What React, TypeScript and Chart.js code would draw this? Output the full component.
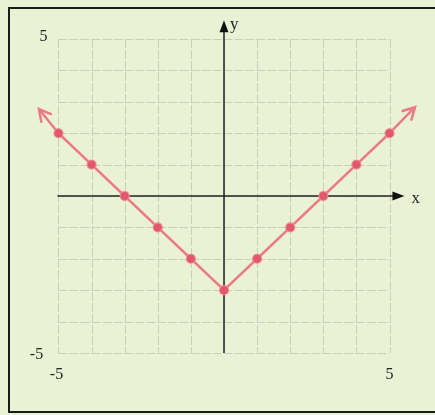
import React, { useEffect, useRef } from "react";
import { Chart, registerables } from "chart.js";

Chart.register(...registerables);

const xValues = [-5, -4, -3, -2, -1, 0, 1, 2, 3, 4, 5];
const yValues = [2, 1, 0, -1, -2, -3, -2, -1, 0, 1, 2];
const leftArrowX = [-5, -5.59];
const leftArrowY = [2, 2.77];
const rightArrowX = [5, 5.77];
const rightArrowY = [2, 2.83];
const gridTicks = [-5, -4, -3, -2, -1, 0, 1, 2, 3, 4, 5];
const yTickLabels = ["5", "-5"];
const xTickLabels = ["-5", "5"];

const LINE = "#ea7b82";
const POINT = "#e2586a";

const decorPlugin = {
  id: "decor",
  beforeDraw(chart: any) {
    const ctx = chart.ctx;
    const { width, height } = chart;
    const xs = chart.scales.x;
    const ys = chart.scales.y;
    ctx.save();
    ctx.fillStyle = "#eaf2d5";
    ctx.fillRect(0, 0, width, height);
    ctx.strokeStyle = "#1a1a1a";
    ctx.lineWidth = 2;
    ctx.strokeRect(9, 8, width + 20, height - 11);
    // grid
    ctx.strokeStyle = "#cbcebf";
    ctx.lineWidth = 1;
    ctx.setLineDash([9, 2]);
    const x0 = xs.getPixelForValue(-5), x1 = xs.getPixelForValue(5);
    const y0 = ys.getPixelForValue(5), y1 = ys.getPixelForValue(-5);
    gridTicks.forEach((t) => {
      const px = Math.round(xs.getPixelForValue(t)) + 0.5;
      ctx.beginPath(); ctx.moveTo(px, y0); ctx.lineTo(px, y1); ctx.stroke();
      const py = Math.round(ys.getPixelForValue(t)) + 0.5;
      ctx.beginPath(); ctx.moveTo(x0, py); ctx.lineTo(x1, py); ctx.stroke();
    });
    ctx.setLineDash([]);
    // axes
    ctx.strokeStyle = "#222";
    ctx.fillStyle = "#111";
    ctx.lineWidth = 1.5;
    const ax = xs.getPixelForValue(0), ay = ys.getPixelForValue(0);
    const xEnd = xs.getPixelForValue(5.45);
    ctx.beginPath(); ctx.moveTo(x0 - 1, ay); ctx.lineTo(xEnd - 8, ay); ctx.stroke();
    ctx.beginPath(); ctx.moveTo(xEnd, ay); ctx.lineTo(xEnd - 12, ay - 4.5); ctx.lineTo(xEnd - 12, ay + 4.5); ctx.closePath(); ctx.fill();
    const yEnd = ys.getPixelForValue(5.6);
    ctx.beginPath(); ctx.moveTo(ax, y1); ctx.lineTo(ax, yEnd + 8); ctx.stroke();
    ctx.beginPath(); ctx.moveTo(ax, yEnd); ctx.lineTo(ax - 4.5, yEnd + 12); ctx.lineTo(ax + 4.5, yEnd + 12); ctx.closePath(); ctx.fill();
    // labels
    ctx.fillStyle = "#222";
    ctx.font = "17px 'Liberation Serif', 'DejaVu Serif', serif";
    ctx.textBaseline = "middle";
    ctx.textAlign = "left";
    ctx.fillText("x", xEnd + 7, ay + 3);
    ctx.fillText("y", ax + 6, yEnd + 4);
    ctx.font = "16px 'Liberation Serif', 'DejaVu Serif', serif";
    ctx.textAlign = "center";
    ctx.fillText(yTickLabels[0], x0 - 15, y0 - 2);
    ctx.fillText(yTickLabels[1], x0 - 22, y1 + 2);
    ctx.fillText(xTickLabels[0], x0 - 2, y1 + 22);
    ctx.fillText(xTickLabels[1], x1, y1 + 22);
    ctx.restore();
  },
  afterDatasetsDraw(chart: any) {
    const ctx = chart.ctx;
    [1, 2].forEach((i) => {
      const pts = chart.getDatasetMeta(i).data;
      const a = pts[0], b = pts[pts.length - 1];
      const ang = Math.atan2(b.y - a.y, b.x - a.x);
      const len = 13;
      ctx.save();
      ctx.strokeStyle = LINE;
      ctx.lineWidth = 2.5;
      ctx.lineCap = "round";
      ctx.beginPath();
      ctx.moveTo(b.x + len * Math.cos(ang + Math.PI - 0.5), b.y + len * Math.sin(ang + Math.PI - 0.5));
      ctx.lineTo(b.x, b.y);
      ctx.lineTo(b.x + len * Math.cos(ang + Math.PI + 0.5), b.y + len * Math.sin(ang + Math.PI + 0.5));
      ctx.stroke();
      ctx.restore();
    });
  },
};

export default function App() {
  const ref = useRef<HTMLCanvasElement>(null);
  useEffect(() => {
    const chart = new Chart(ref.current!, {
      type: "scatter",
      data: {
        datasets: [
          {
            data: xValues.map((x, i) => ({ x, y: yValues[i] })),
            showLine: true,
            borderColor: LINE,
            borderWidth: 2.5,
            pointRadius: 4.5,
            pointBackgroundColor: POINT,
            pointBorderColor: "#ee8a93",
            pointBorderWidth: 1.2,
          },
          {
            data: leftArrowX.map((x, i) => ({ x, y: leftArrowY[i] })),
            showLine: true,
            borderColor: LINE,
            borderWidth: 2.5,
            pointRadius: 0,
          },
          {
            data: rightArrowX.map((x, i) => ({ x, y: rightArrowY[i] })),
            showLine: true,
            borderColor: LINE,
            borderWidth: 2.5,
            pointRadius: 0,
          },
        ],
      },
      options: {
        animation: false,
        responsive: false,
        layout: { padding: { left: 32, right: 19, top: 14, bottom: 37 } },
        plugins: { legend: { display: false }, tooltip: { enabled: false } },
        scales: {
          x: { type: "linear", min: -5.8, max: 5.8, display: false },
          y: { type: "linear", min: -5.8, max: 5.8, display: false },
        },
      },
      plugins: [decorPlugin],
    });
    return () => chart.destroy();
  }, []);
  return (
    <div style={{ position: "fixed", left: 0, top: 0, width: 435, height: 415 }}>
      <canvas ref={ref} width={435} height={415} style={{ display: "block" }} />
    </div>
  );
}
